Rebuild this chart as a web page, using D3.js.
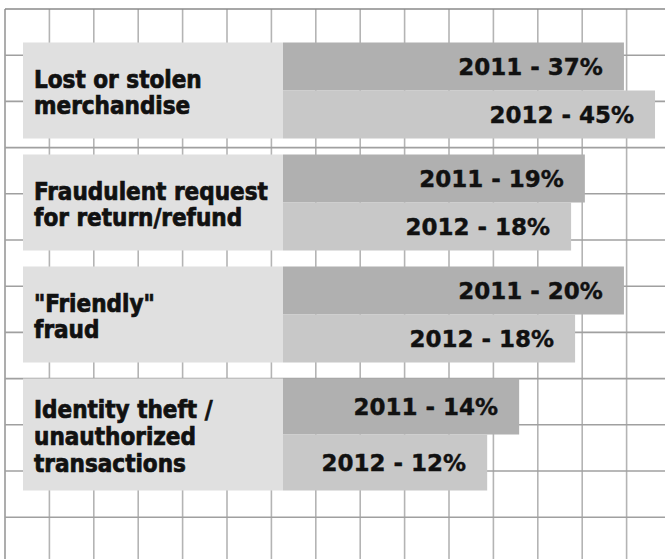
<!DOCTYPE html>
<html>
<head>
<meta charset="utf-8">
<script src="https://cdn.jsdelivr.net/npm/d3@7"></script>
<style>
  body { margin: 0; background: #fff; }
  .cat { font-family: "DejaVu Sans Condensed", "DejaVu Sans", sans-serif; font-stretch: condensed; font-weight: bold; font-size: 24px; fill: #111; stroke: #111; stroke-width: 0.7px; }
  .val { font-family: "DejaVu Sans", sans-serif; font-weight: bold; font-size: 23px; fill: #111; stroke: #111; stroke-width: 0.4px; }
</style>
</head>
<body>
<div id="container"></div>
<script>
/* DATA */
const categories = [
  ["Lost or stolen", "merchandise"],
  ["Fraudulent request", "for return/refund"],
  ["\"Friendly\"", "fraud"],
  ["Identity theft /", "unauthorized", "transactions"]
];
const years = ["2011", "2012"];
const values2011 = [37, 19, 20, 14];
const values2012 = [45, 18, 18, 12];
// bars in the original are not to scale: how far each one reaches, in grid columns
const reach2011 = [13.94, 13.06, 13.94, 11.58];
const reach2012 = [14.64, 12.75, 12.84, 10.86];

/* CONSTANTS AND GLOBALS */
const width = 665,
  height = 559;

const svg = d3.select("#container")
  .append("svg")
  .attr("width", width)
  .attr("height", height);

// background grid, in cell units
const xGrid = d3.scaleLinear().domain([0, 15]).range([5, 671]);
const yGrid = d3.scaleLinear().domain([0, 12]).range([9, 563.4]);

svg.selectAll("line.vgrid")
  .data(d3.range(0, 15))
  .join("line")
  .attr("class", "vgrid")
  .attr("x1", d => xGrid(d)).attr("x2", d => xGrid(d))
  .attr("y1", yGrid(0)).attr("y2", height)
  .attr("stroke", d => d === 0 ? "#999" : "#b4b4b4")
  .attr("stroke-width", 1.6);

svg.selectAll("line.hgrid")
  .data(d3.range(0, 13))
  .join("line")
  .attr("class", "hgrid")
  .attr("x1", xGrid(0)).attr("x2", width)
  .attr("y1", d => yGrid(d)).attr("y2", d => yGrid(d))
  .attr("stroke", d => d === 0 ? "#8a8a8a" : "#a0a0a0")
  .attr("stroke-width", 1.6);

// group rows: height grows with the number of label lines
const top0 = 42.5, gap = 16;
const rows = [];
let yCur = top0;
categories.forEach((lines, i) => {
  const h = 96 + (lines.length - 2) * 16;
  rows.push({
    lines,
    y: yCur,
    h,
    bars: [
      { year: years[0], value: values2011[i], reach: reach2011[i], fill: "#b0b0b0" },
      { year: years[1], value: values2012[i], reach: reach2012[i], fill: "#c8c8c8" }
    ]
  });
  yCur += h + gap;
});

const boxLeft = 23, boxRight = 283;

const groups = svg.selectAll("g.row")
  .data(rows)
  .join("g")
  .attr("class", "row")
  .attr("transform", d => `translate(0, ${d.y})`);

// label box
groups.append("rect")
  .attr("x", boxLeft)
  .attr("y", 0)
  .attr("width", boxRight - boxLeft)
  .attr("height", d => d.h)
  .attr("fill", "#e0e0e0");

// bars
groups.each(function (row) {
  const g = d3.select(this);
  const yb = d3.scaleBand().domain(years).range([0, row.h]);
  g.selectAll("rect.bar")
    .data(row.bars)
    .join("rect")
    .attr("class", "bar")
    .attr("x", boxRight)
    .attr("y", d => yb(d.year))
    .attr("width", d => xGrid(d.reach) - boxRight)
    .attr("height", yb.bandwidth())
    .attr("fill", d => d.fill);

  g.selectAll("text.val")
    .data(row.bars)
    .join("text")
    .attr("class", "val")
    .attr("x", d => xGrid(d.reach) - 21)
    .attr("y", d => yb(d.year) + yb.bandwidth() / 2)
    .attr("dy", "0.36em")
    .attr("text-anchor", "end")
    .text(d => `${d.year} - ${d.value}%`);

  // category label, block centred in the box
  const lh = 26.7;
  const firstBase = row.h / 2 - (row.lines.length - 1) * lh / 2 + 10.5;
  g.append("text")
    .attr("class", "cat")
    .selectAll("tspan")
    .data(row.lines)
    .join("tspan")
    .attr("x", 34)
    .attr("y", (d, i) => firstBase + i * lh)
    .text(d => d);
});
</script>
</body>
</html>
